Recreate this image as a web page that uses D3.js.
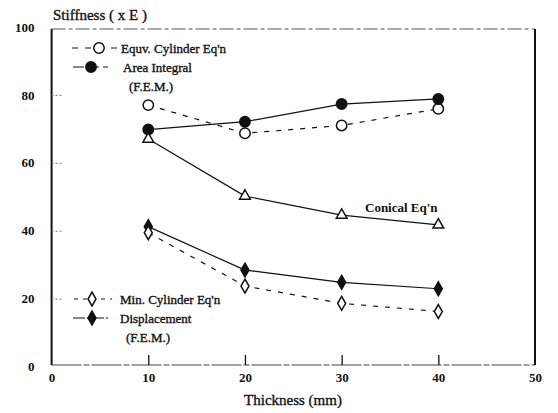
<!DOCTYPE html>
<html>
<head>
<meta charset="utf-8">
<script src="https://cdn.jsdelivr.net/npm/d3@7"></script>
<style>
  body { margin: 0; background: #fff; }
  svg { display: block; }
  text { font-family: "Liberation Serif", "Times New Roman", "DejaVu Serif", serif; fill: #111; }
  text.ink { stroke: #111; stroke-width: 0.35px; }
</style>
</head>
<body>
<svg width="558" height="413"></svg>
<script>
const thickness = [10, 20, 30, 40];

const equivCylinder = [77.0, 68.7, 71.0, 75.9];
const areaIntegral  = [69.8, 72.1, 77.3, 78.8];
const conical       = [67.0, 50.2, 44.6, 41.7];
const displacement  = [41.2, 28.4, 24.8, 22.9];
const minCylinder   = [39.4, 23.7, 18.6, 16.2];

const xTicks = [0, 10, 20, 30, 40, 50];
const yTicks = [0, 20, 40, 60, 80, 100];

const svg = d3.select("svg");

const x = d3.scaleLinear().domain([0, 50]).range([51.6, 535]);
const y = d3.scaleLinear().domain([0, 100]).range([366.5, 27]);

const ink = "#111";

// frame
const frame = svg.append("g");
frame.append("line")
    .attr("x1", x(0)).attr("x2", x(50)).attr("y1", 29).attr("y2", 29)
    .attr("stroke", "#555").attr("stroke-width", 1).attr("stroke-dasharray", "14,3,4,3");
frame.append("line")
    .attr("x1", x(0)).attr("x2", x(50)).attr("y1", 365).attr("y2", 365)
    .attr("stroke", "#444").attr("stroke-width", 1).attr("stroke-dasharray", "30,2,6,2");
frame.append("line")
    .attr("x1", x(0)).attr("x2", x(0)).attr("y1", 29).attr("y2", 365)
    .attr("stroke", ink).attr("stroke-width", 2);
frame.append("line")
    .attr("x1", x(50)).attr("x2", x(50)).attr("y1", 29).attr("y2", 365)
    .attr("stroke", ink).attr("stroke-width", 2);

// axes
const yAxis = svg.append("g")
    .attr("transform", `translate(${x(0)},0)`)
    .call(d3.axisLeft(y).tickValues(yTicks).tickSize(-10).tickPadding(17).tickFormat(d3.format("d")));
yAxis.select(".domain").remove();
yAxis.selectAll(".tick line")
    .attr("stroke", "#777").attr("stroke-dasharray", "2,2")
    .filter(d => d === 0 || d === 100).remove();

const xAxis = svg.append("g")
    .attr("transform", "translate(0,365)")
    .call(d3.axisBottom(x).tickValues(xTicks).tickSize(-10).tickPadding(8).tickFormat(d3.format("d")));
xAxis.select(".domain").remove();
xAxis.selectAll(".tick line")
    .attr("stroke", ink).attr("stroke-width", 1.3)
    .filter(d => d === 0 || d === 50).remove();

svg.selectAll(".tick text")
    .style("font-family", "'Liberation Serif', 'Times New Roman', serif")
    .style("font-size", "13px")
    .style("font-weight", "bold")
    .attr("fill", ink);

// titles
svg.append("text")
    .attr("class", "ink")
    .attr("x", 53).attr("y", 20)
    .style("font-size", "15px")
    .text("Stiffness ( x E )");

svg.append("text")
    .attr("class", "ink")
    .attr("x", 293).attr("y", 405)
    .attr("text-anchor", "middle")
    .style("font-size", "15px")
    .text("Thickness (mm)");

// series
const series = [
    { values: equivCylinder, dash: "5,7", marker: "circle", fill: "#fff" },
    { values: areaIntegral,  dash: null,  marker: "circle", fill: ink },
    { values: conical,       dash: null,  marker: "triangle", fill: "#fff" },
    { values: displacement,  dash: null,  marker: "diamond", fill: ink },
    { values: minCylinder,   dash: "5,7", marker: "diamond", fill: "#fff" }
];

const line = d3.line().x(d => x(d[0])).y(d => y(d[1]));

const symbols = {
    circle: d3.symbol().type(d3.symbolCircle).size(85),
    triangle: d3.symbol().type(d3.symbolTriangle).size(50),
    diamond: d3.symbol().type(d3.symbolDiamond).size(55)
};

series.forEach(s => {
    const pts = thickness.map((t, i) => [t, s.values[i]]);
    svg.append("path")
        .datum(pts)
        .attr("d", line)
        .attr("fill", "none")
        .attr("stroke", ink)
        .attr("stroke-width", 1.2)
        .attr("stroke-dasharray", s.dash);
});

series.forEach(s => {
    const pts = thickness.map((t, i) => [t, s.values[i]]);
    svg.append("g").selectAll("path")
        .data(pts)
        .join("path")
        .attr("transform", d => `translate(${x(d[0])},${y(d[1])})`)
        .attr("d", symbols[s.marker]())
        .attr("fill", s.fill)
        .attr("stroke", ink)
        .attr("stroke-width", 1.5);
});

svg.append("text")
    .attr("x", 365).attr("y", 212)
    .style("font-size", "13px")
    .style("font-weight", "bold")
    .text("Conical Eq'n");

// legends
const legendItems = [
    { y: 48,  x1: 72, x2: 118, mx: 99, dash: "6,7", marker: "circle", fill: "#fff", label: ["Equv. Cylinder Eq'n"], tx: 121 },
    { y: 67,  x1: 73, x2: 108, mx: 91, dash: "11,4", marker: "circle", fill: ink, label: ["Area Integral", "(F.E.M.)"], tx: 123 },
    { y: 299, x1: 74, x2: 112, mx: 92, dash: "4,5", marker: "diamond", fill: "#fff", label: ["Min. Cylinder Eq'n"], tx: 120 },
    { y: 318, x1: 73, x2: 108, mx: 92, dash: "12,2,3,2", marker: "diamond", fill: ink, label: ["Displacement", "(F.E.M.)"], tx: 120 }
];

legendItems.forEach(l => {
    const g = svg.append("g");
    g.append("line")
        .attr("x1", l.x1).attr("x2", l.x2).attr("y1", l.y).attr("y2", l.y)
        .attr("stroke", ink).attr("stroke-width", 1)
        .attr("stroke-dasharray", l.dash);
    g.append("path")
        .attr("transform", `translate(${l.mx},${l.y})`)
        .attr("d", symbols[l.marker]())
        .attr("fill", l.fill)
        .attr("stroke", ink)
        .attr("stroke-width", 1.5);
    l.label.forEach((t, i) => {
        g.append("text")
            .attr("class", "ink")
            .attr("x", i === 0 ? l.tx : l.tx + 6)
            .attr("y", l.y + 5 + i * 19)
            .style("font-size", "13px")
            .text(t);
    });
});
</script>
</body>
</html>
